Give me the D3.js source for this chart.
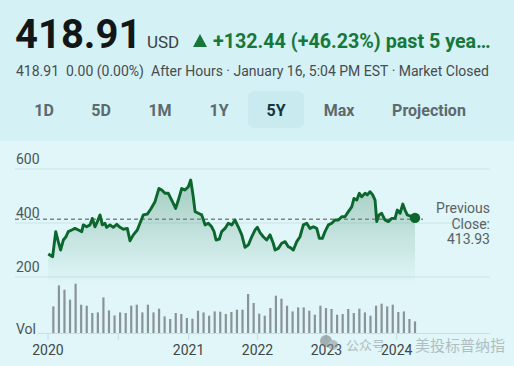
<!DOCTYPE html>
<html><head><meta charset="utf-8">
<script src="https://cdn.jsdelivr.net/npm/d3@7/dist/d3.min.js"></script>
<style>
html,body{margin:0;padding:0;background:#d4f1f5;}
svg{display:block;font-family:Roboto,"Noto Sans",sans-serif;}
</style></head>
<body><svg id="c" width="514" height="366"></svg>
<script>
// ---------- data ----------
const lastPrice = "418.91";
const currency = "USD";
const changeText = "+132.44 (+46.23%) past 5 yea…";
const afterHoursPrice = "418.91";
const afterHoursChange = "0.00 (0.00%)";
const statusText = "After Hours · January 16, 5:04 PM EST · Market Closed";
const tabs = ["1D", "5D", "1M", "1Y", "5Y", "Max", "Projection"];
const activeTab = "5Y";
const previousClose = 413.93;
const yTicks = [200, 400, 600];
const xTickWeeks = [0, 50, 100, 149, 198, 248];
const xTickLabels = ["2020", "", "2021", "2022", "2023", "2024"];
// price line: week since start, price
const priceWeek = [0.2,3.3,5.5,7.3,9.0,10.9,12.8,14.4,16.9,19.2,21.6,24.0,25.1,27.5,29.9,31.5,33.4,35.1,37.0,38.6,40.5,41.7,44.1,46.4,48.9,51.2,53.6,56.4,58.3,60.7,63.5,65.4,67.8,70.6,73.0,76.1,78.9,80.9,83.2,85.6,86.8,89.1,90.8,92.7,95.1,97.4,99.8,101.5,103.3,104.6,106.9,109.3,111.7,114.0,116.4,118.1,119.5,121.8,123.5,125.9,128.2,130.7,133.0,135.3,137.8,140.1,142.5,144.9,147.2,148.9,150.8,153.1,155.5,157.9,160.2,161.5,163.8,166.2,168.6,170.9,172.1,174.5,176.9,179.2,181.6,184.0,186.3,188.7,191.1,193.0,195.1,197.0,199.4,201.8,204.1,206.5,208.9,211.2,213.6,216.0,217.6,219.6,221.4,223.1,225.5,227.1,229.0,230.9,232.6,233.8,235.4,237.3,239.7,242.0,244.5,246.8,248.4,250.4,252.3,253.9,255.5,257.5,259.8,261.0];
const priceValue = [285,275,368,331,300,337,349,368,374,380,374,368,393,386,393,417,386,405,430,393,399,384,393,384,395,384,377,380,334,356,374,399,430,433,451,479,528,522,510,510,497,473,454,485,528,522,534,559,497,442,436,430,393,399,386,368,337,340,368,380,399,393,411,386,356,310,319,349,374,384,364,349,337,356,325,300,306,325,331,312,310,300,331,349,393,399,380,386,380,343,343,368,393,399,411,411,423,423,442,460,491,485,510,497,510,504,516,504,485,405,430,436,411,405,417,417,448,436,470,448,430,426,423,418.91];
// volume (4-week periods)
const volume = [26.6,47.6,43.3,33.3,49.3,28.3,27.3,20,20.6,35.6,22.6,17.6,20.6,20,27.3,28.3,20.6,28.3,20.6,24.3,16.6,14,20,19,15,14.3,22.3,20.6,17.3,21.6,21.3,19,21,23.3,23.3,39,30,19.3,17.3,25,37.3,34.3,27.3,21.6,25.6,25.6,22.3,18.3,27.3,25,24,18.3,19,24,20,24.3,20.6,17.3,27.3,29.3,26.6,28.3,21,21.6,14,11.6];

// ---------- drawing ----------
const svg = d3.select("#c");
const W = 514, H = 366;
const green = "#0b672d";

svg.append("rect").attr("width", W).attr("height", H).attr("fill", "#d4f1f5");
svg.append("rect").attr("y", 141).attr("width", W).attr("height", H - 141).attr("fill", "#e0f6f8");

// header
svg.append("text").attr("x", 15).attr("y", 48).attr("font-size", 40).attr("font-weight", 700)
  .attr("fill", "#131617").text(lastPrice);
svg.append("text").attr("x", 147).attr("y", 48).attr("font-size", 17).attr("fill", "#3a3f41").text(currency);
svg.append("path").attr("d", "M193,47 L200,34 L207,47 Z").attr("fill", "#17773a");
svg.append("text").attr("x", 213).attr("y", 48).attr("font-size", 19.7).attr("font-weight", 700)
  .attr("fill", "#17773a").text(changeText);
svg.append("text").attr("x", 16).attr("y", 76).attr("font-size", 14).attr("fill", "#474c4e").text(afterHoursPrice);
svg.append("text").attr("x", 66).attr("y", 76).attr("font-size", 14).attr("fill", "#474c4e").text(afterHoursChange);
svg.append("text").attr("x", 151).attr("y", 76).attr("font-size", 14).attr("fill", "#474c4e").text(statusText);

// tabs
const tabCenters = [44, 101, 160, 219, 276, 339, 429];
tabs.forEach((t, i) => {
  if (t === activeTab) {
    svg.append("rect").attr("x", tabCenters[i] - 28).attr("y", 91).attr("width", 56).attr("height", 37)
      .attr("rx", 6).attr("fill", "#c9eaef");
  }
  svg.append("text").attr("x", tabCenters[i]).attr("y", 116).attr("text-anchor", "middle")
    .attr("font-size", 16).attr("font-weight", 700)
    .attr("fill", t === activeTab ? "#15363c" : "#5c6a6d").text(t);
});

// scales
const x = d3.scaleLinear().domain([0, 261]).range([48, 415]);
const y = d3.scaleLinear().domain([200, 600]).range([277, 169]);
const vx = d3.scaleLinear().domain([0, volume.length - 1]).range([x(3.8), x(261)]);
const vy = d3.scaleLinear().domain([0, 60]).range([333, 273]);

// gridlines + labels
yTicks.forEach(v => {
  svg.append("line").attr("x1", 15).attr("x2", 490).attr("y1", y(v)).attr("y2", y(v))
    .attr("stroke", "#c6e4e8").attr("stroke-width", 1.2);
  svg.append("text").attr("x", 16).attr("y", y(v) - 5).attr("font-size", 14).attr("fill", "#4d5557").text(v);
});

// area gradient
const defs = svg.append("defs");
const g = defs.append("linearGradient").attr("id", "ag").attr("x1", 0).attr("x2", 0)
  .attr("gradientUnits", "userSpaceOnUse");
g.attr("y1", y(560)).attr("y2", 285);
g.append("stop").attr("offset", 0).attr("stop-color", "#2f7d55").attr("stop-opacity", 0.34);
g.append("stop").attr("offset", 1).attr("stop-color", "#2f7d55").attr("stop-opacity", 0.0);

const pts = priceWeek.map((w, i) => [w, priceValue[i]]);
svg.append("path").datum(pts)
  .attr("d", d3.area().x(d => x(d[0])).y0(285).y1(d => y(d[1])))
  .attr("fill", "url(#ag)");

// previous close dashed
svg.append("line").attr("x1", 15).attr("x2", 423).attr("y1", y(previousClose)).attr("y2", y(previousClose))
  .attr("stroke", "#7d8587").attr("stroke-width", 1.5).attr("stroke-dasharray", "4,3");

// price line
svg.append("path").datum(pts)
  .attr("d", d3.line().x(d => x(d[0])).y(d => y(d[1])))
  .attr("fill", "none").attr("stroke", green).attr("stroke-width", 2.9).attr("stroke-linejoin", "round");
const last = pts[pts.length - 1];
svg.append("circle").attr("cx", x(last[0])).attr("cy", y(last[1])).attr("r", 5.2).attr("fill", green);

// previous close label
["Previous", "Close:", previousClose.toFixed(2)].forEach((t, i) => {
  svg.append("text").attr("x", 490).attr("y", 213 + i * 15.5).attr("text-anchor", "end")
    .attr("font-size", 14).attr("fill", "#5a6264").text(t);
});

// volume bars
svg.selectAll(".vb").data(volume).enter().append("rect")
  .attr("x", (d, i) => vx(i) - 1.1).attr("width", 2.2)
  .attr("y", d => vy(d)).attr("height", d => vy(0) - vy(d))
  .attr("fill", "#8a9496");

// volume axis line
svg.append("line").attr("x1", 38).attr("x2", 490).attr("y1", 333.5).attr("y2", 333.5)
  .attr("stroke", "#c6e1e5").attr("stroke-width", 1.2);
svg.append("text").attr("x", 16).attr("y", 334).attr("font-size", 14).attr("fill", "#4d5557").text("Vol");

// x ticks
xTickWeeks.forEach((w, i) => {
  svg.append("line").attr("x1", x(w)).attr("x2", x(w)).attr("y1", 334).attr("y2", 340)
    .attr("stroke", "#c6e1e5").attr("stroke-width", 1.2);
  if (xTickLabels[i]) {
    svg.append("text").attr("x", x(w)).attr("y", 355).attr("text-anchor", "middle")
      .attr("font-size", 14).attr("fill", "#3f4648").text(xTickLabels[i]);
  }
});

// watermark
const wm = svg.append("g").attr("opacity", 0.55);
wm.append("circle").attr("cx", 326).attr("cy", 341).attr("r", 6).attr("fill", "#6f7779");
wm.append("circle").attr("cx", 333).attr("cy", 345).attr("r", 5).attr("fill", "#8b9395");
wm.append("text").attr("x", 346).attr("y", 350).attr("font-size", 13).attr("fill", "#8a9294")
  .attr("font-family", "'Noto Sans CJK SC'").text("公众号");
wm.append("text").attr("x", 415).attr("y", 351).attr("font-size", 15).attr("fill", "#8a9294")
  .attr("font-family", "'Noto Sans CJK SC'").text("美投标普纳指");
</script></body></html>
